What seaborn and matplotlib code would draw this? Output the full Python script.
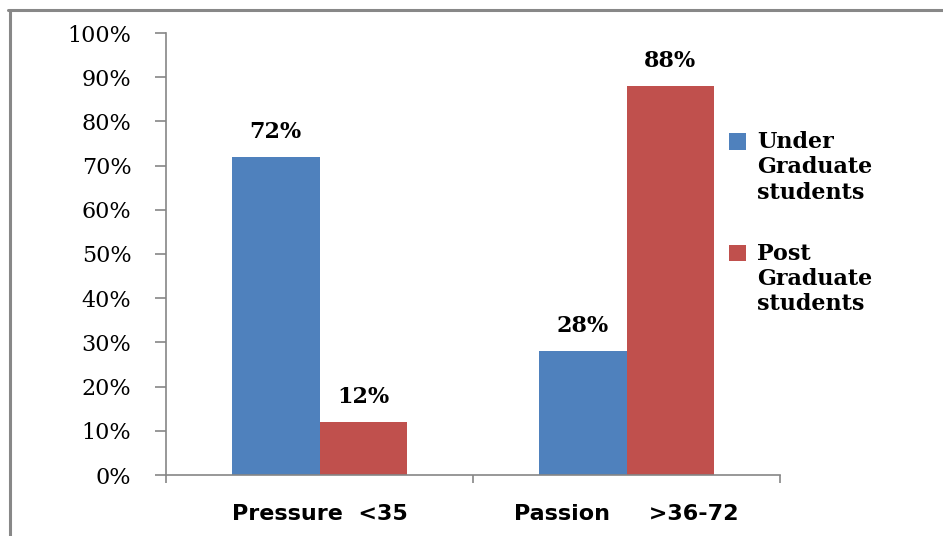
import matplotlib
matplotlib.use("Agg")
import matplotlib.pyplot as plt
from matplotlib.lines import Line2D
from matplotlib.patches import Patch, Rectangle
from matplotlib.legend_handler import HandlerPatch
import pandas as pd
import seaborn as sns

# data
categories = ["Pressure  <35", "Passion     >36-72"]
groups = ["Under\nGraduate\nstudents", "Post\nGraduate\nstudents"]
under_grad = [72, 28]
post_grad = [12, 88]
y_ticks = [0, 10, 20, 30, 40, 50, 60, 70, 80, 90, 100]

colors = ["#4F81BD", "#C0504D"]
gray = "#868686"

df = pd.DataFrame({
    "category": categories * 2,
    "group": [groups[0]] * 2 + [groups[1]] * 2,
    "value": under_grad + post_grad,
})

sns.set_style("white")
plt.rcParams["font.family"] = ["DejaVu Serif"]
plt.rcParams["text.color"] = "black"
plt.rcParams["xtick.color"] = "black"
plt.rcParams["ytick.color"] = "black"

fig = plt.figure(figsize=(9.43, 5.36), dpi=100)
ax = fig.add_axes([166 / 943, 1 - 475 / 536, (780 - 166) / 943, (475 - 33) / 536])

sns.barplot(data=df, x="category", y="value", hue="group", palette=colors,
            width=0.57, saturation=1, linewidth=0, legend=False, ax=ax)

ax.set_xlim(-0.5, 1.5)
ax.set_ylim(0, 100)
ax.set_xlabel("")
ax.set_ylabel("")

# value labels on top of bars
for cont in ax.containers:
    ax.bar_label(cont, labels=[f"{v:.0f}%" for v in cont.datavalues], padding=10,
                 fontsize=16, fontweight="bold", family="DejaVu Serif", color="black")

# y axis
ax.set_yticks(y_ticks)
ax.set_yticklabels([f"{t}%" for t in y_ticks], fontsize=16, color="black")
ax.tick_params(axis="y", direction="out", length=8, width=1.2, color=gray, pad=17,
               left=True, labelcolor="black")

# x axis: labels centered, ticks at category boundaries
ax.set_xticks([0, 1])
ax.set_xticklabels(categories, family="DejaVu Sans", fontweight="bold", fontsize=16,
                   color="black")
ax.tick_params(axis="x", length=0, pad=21)
ax.set_xticks([-0.5, 0.5, 1.5], minor=True)
ax.tick_params(axis="x", which="minor", direction="out", length=6, width=1.2,
               color=gray, bottom=True)

for side in ["top", "right"]:
    ax.spines[side].set_visible(False)
for side in ["left", "bottom"]:
    ax.spines[side].set_color(gray)
    ax.spines[side].set_linewidth(1.2)

# legend: square lined up with the first text line
leg_size = 16


def top_square(legend, orig_handle, xdescent, ydescent, width, height, fontsize):
    return Rectangle((-xdescent, -ydescent + fontsize * 1.2), width, height)


handles = [Patch(facecolor=c, edgecolor="none") for c in colors]
leg = ax.legend(handles, groups, loc="upper left",
                bbox_to_anchor=(729 / 943, 1 - 131 / 536),
                bbox_transform=fig.transFigure, frameon=False,
                prop={"family": "DejaVu Serif", "weight": "bold", "size": leg_size},
                handlelength=0.75, handleheight=0.75, handletextpad=0.5,
                labelspacing=1.75, borderaxespad=0, borderpad=0,
                handler_map={Patch: HandlerPatch(patch_func=top_square)})

# outer frame lines (top and left) like the source image
fig.add_artist(Line2D([8 / 943, 1], [1 - 10 / 536] * 2, transform=fig.transFigure,
                      color="#888888", lw=2.2))
fig.add_artist(Line2D([9.5 / 943] * 2, [0, 1 - 10 / 536], transform=fig.transFigure,
                      color="#888888", lw=2.2))

fig.savefig("out.png", dpi=100)
